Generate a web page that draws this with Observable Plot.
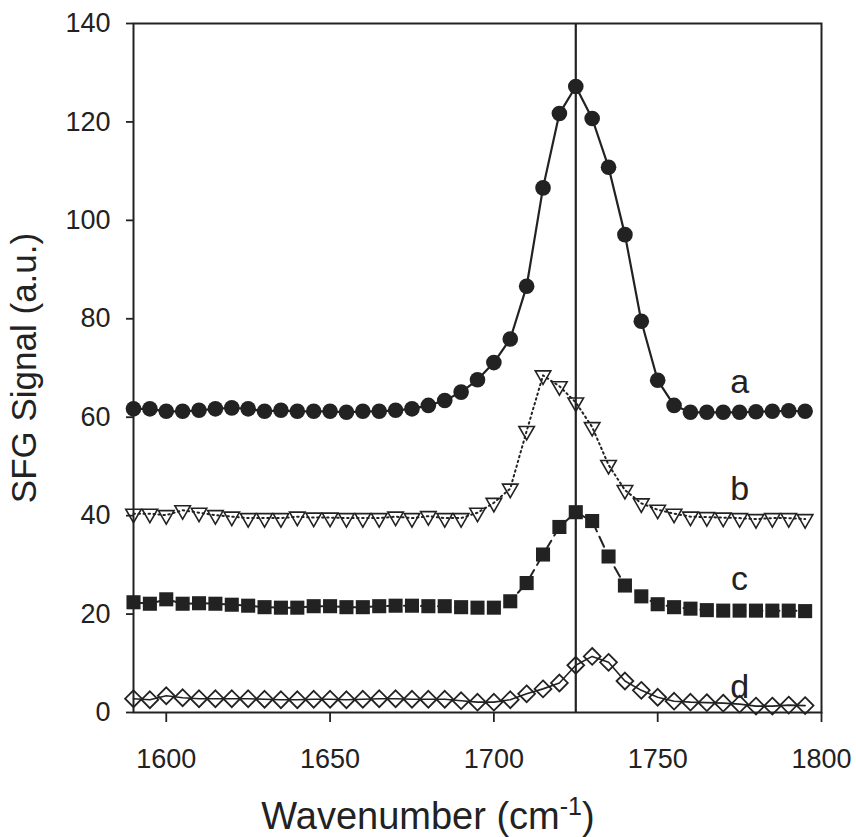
<!DOCTYPE html>
<html>
<head>
<meta charset="utf-8">
<script src="https://cdn.jsdelivr.net/npm/d3@7"></script>
<script src="https://cdn.jsdelivr.net/npm/@observablehq/plot@0.6"></script>
<style>
  html, body { margin: 0; padding: 0; background: #fff; }
  #chart { width: 856px; height: 837px; }
</style>
</head>
<body>
<div id="chart"></div>
<script>
// ---- data ----
const wavenumbers = [1590, 1595, 1600, 1605, 1610, 1615, 1620, 1625, 1630, 1635,
  1640, 1645, 1650, 1655, 1660, 1665, 1670, 1675, 1680, 1685,
  1690, 1695, 1700, 1705, 1710, 1715, 1720, 1725, 1730, 1735,
  1740, 1745, 1750, 1755, 1760, 1765, 1770, 1775, 1780, 1785, 1790, 1795];

const seriesA = [61.7, 61.7, 61.2, 61.2, 61.4, 61.7, 61.9, 61.7, 61.2, 61.4,
  61.2, 61.2, 61.2, 61.0, 61.2, 61.2, 61.4, 61.7, 62.4, 63.4,
  65.1, 67.6, 71.1, 75.9, 86.6, 106.6, 121.7, 127.2, 120.7, 110.8,
  97.1, 79.5, 67.5, 62.4, 61.0, 61.0, 61.0, 61.0, 61.1, 61.2, 61.3, 61.2];

const seriesB = [40.4, 40.4, 40.1, 41.1, 40.6, 40.1, 39.8, 39.5, 39.5, 39.5,
  39.8, 39.6, 39.6, 39.5, 39.5, 39.5, 39.8, 39.5, 39.9, 39.5,
  39.5, 40.6, 42.6, 45.5, 57.2, 68.5, 66.3, 63.0, 58.0, 50.3,
  45.2, 42.5, 41.2, 40.4, 39.8, 39.7, 39.6, 39.5, 39.3, 39.5, 39.5, 39.3];

const seriesC = [22.4, 22.1, 23.0, 22.1, 22.2, 22.1, 21.9, 21.7, 21.4, 21.3,
  21.3, 21.6, 21.6, 21.4, 21.4, 21.6, 21.7, 21.7, 21.6, 21.6,
  21.4, 21.3, 21.3, 22.6, 26.3, 32.1, 37.7, 40.7, 38.9, 31.7,
  25.8, 23.6, 22.0, 21.4, 21.1, 20.8, 20.7, 20.7, 20.7, 20.7, 20.7, 20.6];

const seriesD = [2.8, 2.6, 3.4, 3.0, 2.8, 2.8, 2.8, 2.8, 2.7, 2.6,
  2.6, 2.7, 2.7, 2.6, 2.7, 2.8, 2.8, 2.7, 2.7, 2.7,
  2.4, 2.1, 2.1, 2.6, 3.8, 4.8, 6.0, 9.6, 11.4, 10.2,
  6.4, 4.5, 3.1, 2.3, 2.1, 2.0, 1.9, 1.7, 1.3, 1.3, 1.5, 1.4];

const seriesNames = ["a", "b", "c", "d"];
const labelX = [1775, 1775, 1775, 1775];
const labelY = [65.0, 43.1, 24.8, 3.0];

const xTicks = [1600, 1650, 1700, 1750, 1800];
const yTicks = [0, 20, 40, 60, 80, 100, 120, 140];
const peakPosition = [1725];

const xTitle = "Wavenumber (cm";
const xTitleSup = "-1";
const yTitle = "SFG Signal (a.u.)";

// ---- tables ----
const toRows = (vals) => wavenumbers.map((w, i) => ({x: w, y: vals[i]}));
const rowsA = toRows(seriesA);
const rowsB = toRows(seriesB);
const rowsC = toRows(seriesC);
const rowsD = toRows(seriesD);
const labelRows = seriesNames.map((s, i) => ({x: labelX[i], y: labelY[i], t: s}));

// ---- custom symbols ----
const rOf = (size) => Math.sqrt(size / Math.PI);
const downTriangle = {
  draw(ctx, size) {
    const r = rOf(size);
    const hw = r * 0.97, h = r * 1.68;
    ctx.moveTo(-hw, -h / 3);
    ctx.lineTo(hw, -h / 3);
    ctx.lineTo(0, 2 * h / 3);
    ctx.closePath();
  }
};
const squareSym = {
  draw(ctx, size) {
    const r = rOf(size);
    const s = r * 0.88;
    ctx.rect(-s, -s, 2 * s, 2 * s);
  }
};
const diamondSym = {
  draw(ctx, size) {
    const r = rOf(size);
    const s = r * 1.05;
    ctx.moveTo(0, -s);
    ctx.lineTo(s, 0);
    ctx.lineTo(0, s);
    ctx.lineTo(-s, 0);
    ctx.closePath();
  }
};

const INK = "#222";
const FONT = "'Liberation Sans', Arial, Helvetica, sans-serif";

const plot = Plot.plot({
  width: 856,
  height: 837,
  marginLeft: 133,
  marginRight: 35,
  marginTop: 23,
  marginBottom: 125,
  style: {
    fontFamily: FONT,
    fontSize: "27px",
    color: INK,
    background: "#fff"
  },
  x: {domain: [1590, 1800], ticks: xTicks, tickSize: 10, tickPadding: 26, label: null, tickFormat: d => String(d)},
  y: {domain: [0, 140], ticks: yTicks, tickSize: 7, tickPadding: 16, label: null},
  marks: [
    Plot.frame({stroke: INK, strokeWidth: 2}),
    Plot.ruleX(peakPosition, {stroke: INK, strokeWidth: 2.2}),
    // series d
    Plot.line(rowsD, {x: "x", y: "y", stroke: INK, strokeWidth: 1.6}),
    Plot.dot(rowsD, {x: "x", y: "y", r: 8, symbol: diamondSym, fill: "none", stroke: INK, strokeWidth: 1.8}),
    // series c
    Plot.line(rowsC, {x: "x", y: "y", stroke: INK, strokeWidth: 2, strokeDasharray: "11,6"}),
    Plot.dot(rowsC, {x: "x", y: "y", r: 8, symbol: squareSym, fill: INK, stroke: "none"}),
    // series b
    Plot.line(rowsB, {x: "x", y: "y", stroke: INK, strokeWidth: 2, strokeDasharray: "1.5,3.5"}),
    Plot.dot(rowsB, {x: "x", y: "y", r: 8, symbol: downTriangle, fill: "none", stroke: INK, strokeWidth: 1.6}),
    // series a
    Plot.line(rowsA, {x: "x", y: "y", stroke: INK, strokeWidth: 2.2}),
    Plot.dot(rowsA, {x: "x", y: "y", r: 7.8, fill: INK, stroke: "none"}),
    // labels
    Plot.text(labelRows, {x: "x", y: "y", text: "t", fontSize: 34, fill: INK, textAnchor: "middle", lineAnchor: "bottom"})
  ]
});

document.getElementById("chart").appendChild(plot);

// axis ticks styling
d3.select(plot).selectAll("[aria-label='x-axis tick'] path, [aria-label='y-axis tick'] path")
  .attr("stroke-width", 1.8);

// axis titles as real text
const svg = d3.select(plot);
const xt = svg.append("text")
  .attr("x", 428)
  .attr("y", 829)
  .attr("text-anchor", "middle")
  .attr("fill", INK)
  .style("font-family", FONT)
  .style("font-size", "38px");
xt.append("tspan").text(xTitle);
xt.append("tspan").attr("dy", -14).style("font-size", "25px").text(xTitleSup);
xt.append("tspan").attr("dy", 14).text(")");

svg.append("text")
  .attr("transform", "translate(36,368) rotate(-90)")
  .attr("text-anchor", "middle")
  .attr("fill", INK)
  .style("font-family", FONT)
  .style("font-size", "35px")
  .text(yTitle);
</script>
</body>
</html>
